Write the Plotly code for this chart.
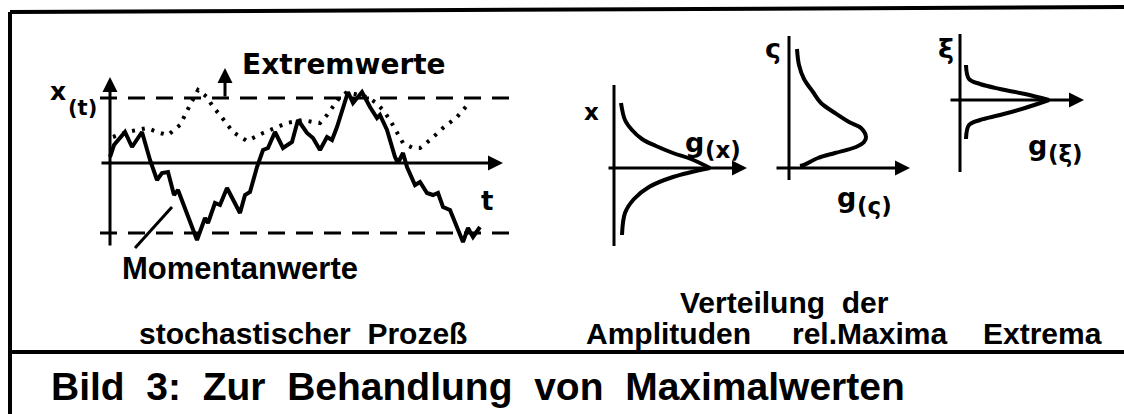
import plotly.graph_objects as go

# ---------------------------------------------------------------
# Stochastic process x(t)  (time / amplitude units)
# ---------------------------------------------------------------
proc_t = [0.0, 0.4, 1.5, 2.2, 3.2, 4.0, 4.7, 5.2, 5.8, 6.4, 6.8, 8.0, 8.7,
          9.5, 9.8, 10.5, 11.0, 11.7, 12.7, 13.0, 13.5, 14.0, 14.7, 15.3,
          15.8, 16.5, 17.3, 18.2, 18.8, 19.7, 20.3, 21.0, 21.7, 22.2, 22.7,
          23.8, 24.3, 25.2, 26.0, 26.7, 27.0, 27.7, 28.5, 28.8, 29.3, 29.7,
          30.5, 31.0, 31.7, 32.3, 32.8, 33.3, 34.0, 34.5, 35.3, 35.8, 36.3,
          37.0]
proc_x = [0.6, 1.8, 3.1, 1.6, 3.1, 0.3, -1.7, -1.0, -0.9, -3.2, -2.7, -5.7,
          -7.7, -5.5, -6.0, -4.0, -4.2, -2.5, -4.4, -5.0, -3.2, -2.9, -0.4,
          1.3, 1.5, 3.1, 1.5, 2.1, 4.3, 3.0, 2.5, 1.3, 2.6, 2.3, 3.6, 7.1,
          6.0, 7.1, 5.6, 4.5, 4.8, 3.3, 0.6, 0.0, 1.0, -0.4, -2.2, -1.9,
          -3.0, -3.2, -3.0, -4.4, -4.7, -5.9, -7.9, -6.5, -7.4, -6.4]

# curve through the relative maxima (dotted)
env_t = [0.3, 1.7, 3.7, 5.0, 5.8, 7.0, 8.0, 8.8, 9.7, 10.3, 11.0, 12.3, 13.7,
         15.3, 17.7, 19.3, 20.3, 21.0, 21.7, 23.0, 23.7, 25.7, 26.5, 27.3,
         28.0, 28.7, 29.3, 30.3, 31.0, 32.0, 33.3, 34.7, 36.0]
env_x = [2.6, 3.1, 3.5, 3.0, 2.8, 3.8, 5.8, 7.3, 6.6, 5.6, 4.8, 3.1, 2.2,
         3.0, 4.0, 4.3, 4.1, 4.0, 4.8, 6.6, 7.1, 6.6, 6.1, 5.3, 4.3, 3.0,
         2.0, 1.5, 1.5, 2.3, 3.5, 4.6, 6.1]

# extreme-value levels
extreme_levels = [6.5, -7.0]

# ---------------------------------------------------------------
# Distribution of the amplitudes g(x)
# ---------------------------------------------------------------
amp_g_upper = [0.7, 1.1, 1.8, 2.8, 4.2, 5.9, 7.7, 9.6]
amp_x_upper = [6.5, 4.8, 3.8, 2.9, 2.2, 1.5, 0.9, 0.0]
amp_g_lower = [0.8, 1.1, 2.0, 3.5, 5.9, 9.6]
amp_x_lower = [-6.7, -4.5, -3.1, -1.9, -0.9, 0.0]

# Distribution of the relative maxima g(ς)
max_g = [0.8, 1.0, 1.5, 2.4, 3.2, 4.6, 6.0, 7.2, 7.7, 7.5, 6.7, 4.6, 2.9, 1.5, 1.1]
max_s = [11.9, 10.3, 8.9, 7.6, 6.5, 5.5, 4.6, 4.0, 3.1, 2.6, 2.1, 1.5, 1.0, 0.3, 0.2]

# Distribution of the extrema g(ξ)
ext_g_upper = [0.6, 0.9, 2.0, 4.0, 6.5, 8.9]
ext_xi_upper = [3.5, 2.1, 1.6, 1.1, 0.6, 0.0]
ext_g_lower = [0.6, 0.9, 2.0, 4.0, 6.5, 8.9]
ext_xi_lower = [-3.9, -2.5, -2.0, -1.5, -0.8, 0.0]

# ---------------------------------------------------------------
W, H = 1124, 414
UNIT = 10  # pixels per diagram unit
INK = "#000000"
LABEL_FONT = "Liberation Sans, Arial, sans-serif"
SYMBOL_FONT = "DejaVu Sans, sans-serif"

# panel origins on the sheet (pixels from the top-left corner)
panels = {
    2: (110, 163),   # process
    3: (614, 168),   # amplitudes
    4: (789, 168),   # relative maxima
    5: (960, 100),   # extrema
}


def panel_axes(ox, oy):
    xa = dict(range=[-ox / UNIT, (W - ox) / UNIT], overlaying="x",
              visible=False, fixedrange=True)
    ya = dict(range=[(oy - H) / UNIT, oy / UNIT], overlaying="y",
              visible=False, fixedrange=True)
    return xa, ya


fig = go.Figure()


def curve(n, xs, ys, width=4, dash=None, shape="linear"):
    fig.add_trace(go.Scatter(
        x=xs, y=ys, xaxis=f"x{n}", yaxis=f"y{n}", mode="lines",
        line=dict(color=INK, width=width, dash=dash, shape=shape),
        hoverinfo="skip", showlegend=False))


# process and its envelope
curve(2, proc_t, proc_x, width=4)
curve(2, env_t, env_x, width=4, dash="3px,7px")
# extreme value levels
for lv in extreme_levels:
    curve(2, [-1.0, 40.0], [lv, lv], width=3, dash="17px,11px")
# leader line for the instantaneous values
curve(2, [2.5, 6.2], [-8.5, -4.4], width=3)

# distributions
curve(3, amp_g_upper, amp_x_upper, shape="spline")
curve(3, amp_g_lower, amp_x_lower, shape="spline")
curve(4, max_g, max_s, shape="spline")
curve(5, ext_g_upper, ext_xi_upper, shape="spline")
curve(5, ext_g_lower, ext_xi_lower, shape="spline")

# vertical axes without arrows
curve(3, [0, 0], [8.3, -7.8], width=3)
curve(4, [0, 0], [13.2, -1.2], width=3)
curve(5, [0, 0], [6.6, -7.2], width=3)

annotations = []


def arrow(n, x0, y0, x1, y1, width=3, size=1.0):
    annotations.append(dict(
        xref=f"x{n}", yref=f"y{n}", axref=f"x{n}", ayref=f"y{n}",
        x=x1, y=y1, ax=x0, ay=y0, text="", showarrow=True,
        arrowhead=2, arrowsize=size, arrowwidth=width, arrowcolor=INK,
        standoff=0, startstandoff=0))


# process axes
arrow(2, -1.0, 0.0, 39.3, 0.0)
arrow(2, 0.0, -8.4, 0.0, 8.6)
# marker arrow pointing to the extreme values
arrow(2, 11.5, 6.5, 11.5, 9.5, width=3)
# distribution abscissae
arrow(3, -0.7, 0, 13.3, 0)
arrow(4, -1.4, 0, 12.1, 0)
arrow(5, -1.1, 0, 12.4, 0)


def text(s, x, y, size, family=LABEL_FONT, xanchor="center", bold=True):
    annotations.append(dict(
        xref="x", yref="y", x=x, y=y, text=s, showarrow=False,
        xanchor=xanchor, yanchor="middle",
        font=dict(family=family, size=size, color=INK,
                  weight="bold" if bold else "normal")))


NB = " \u00a0"  # widened word gap

# labels inside the process panel
text("Extremwerte", 240, 64, 28, SYMBOL_FONT, "left")
text("x", 58, 91, 25, SYMBOL_FONT)
text("(t)", 66, 108, 21, SYMBOL_FONT, "left")
text("t", 487, 201, 26, SYMBOL_FONT)

# labels of the distribution panels
text("x", 591, 112, 23, SYMBOL_FONT)
text("ς", 773, 48, 27, SYMBOL_FONT)
text("ξ", 946, 48, 27, SYMBOL_FONT)
text("g", 694, 142, 27, SYMBOL_FONT)
text("(x)", 703, 150, 23, SYMBOL_FONT, "left")
text("g", 846, 197, 27, SYMBOL_FONT)
text("(ς)", 855, 206, 23, SYMBOL_FONT, "left")
text("g", 1037, 145, 27, SYMBOL_FONT)
text("(ξ)", 1046, 154, 23, SYMBOL_FONT, "left")

# descriptive texts
text("Momentanwerte", 240, 268, 31)
text("stochastischer" + NB + "Prozeß", 303, 333, 30)
text("Verteilung" + NB + "der", 784, 302, 30)
text("Amplituden", 668, 333, 30)
text("rel.Maxima", 869, 333, 30)
text("Extrema", 1042, 333, 30)
text("Bild" + NB + "3:" + NB + "Zur" + NB + "Behandlung" + NB + "von" + NB
     + "Maximalwerten", 49, 386, 39, xanchor="left")

# sheet frame: left edge, top edge, caption separator
frame = [
    dict(x0=10, y0=12, x1=10, y1=H + 5),
    dict(x0=10, y0=12, x1=W + 5, y1=7),
    dict(x0=10, y0=352, x1=W + 5, y1=352),
]
shapes = [dict(type="line", xref="x", yref="y", line=dict(color=INK, width=4), **f)
          for f in frame]

layout = dict(
    width=W, height=H, autosize=False,
    margin=dict(l=0, r=0, t=0, b=0, pad=0),
    paper_bgcolor="white", plot_bgcolor="white",
    xaxis=dict(range=[0, W], visible=False, fixedrange=True),
    yaxis=dict(range=[H, 0], visible=False, fixedrange=True),
    annotations=annotations, shapes=shapes, showlegend=False,
)
for n, (ox, oy) in panels.items():
    xa, ya = panel_axes(ox, oy)
    xa["anchor"] = f"y{n}"
    ya["anchor"] = f"x{n}"
    layout[f"xaxis{n}"] = xa
    layout[f"yaxis{n}"] = ya

fig.update_layout(**layout)
fig.write_html("out.html", config={"displayModeBar": False})
